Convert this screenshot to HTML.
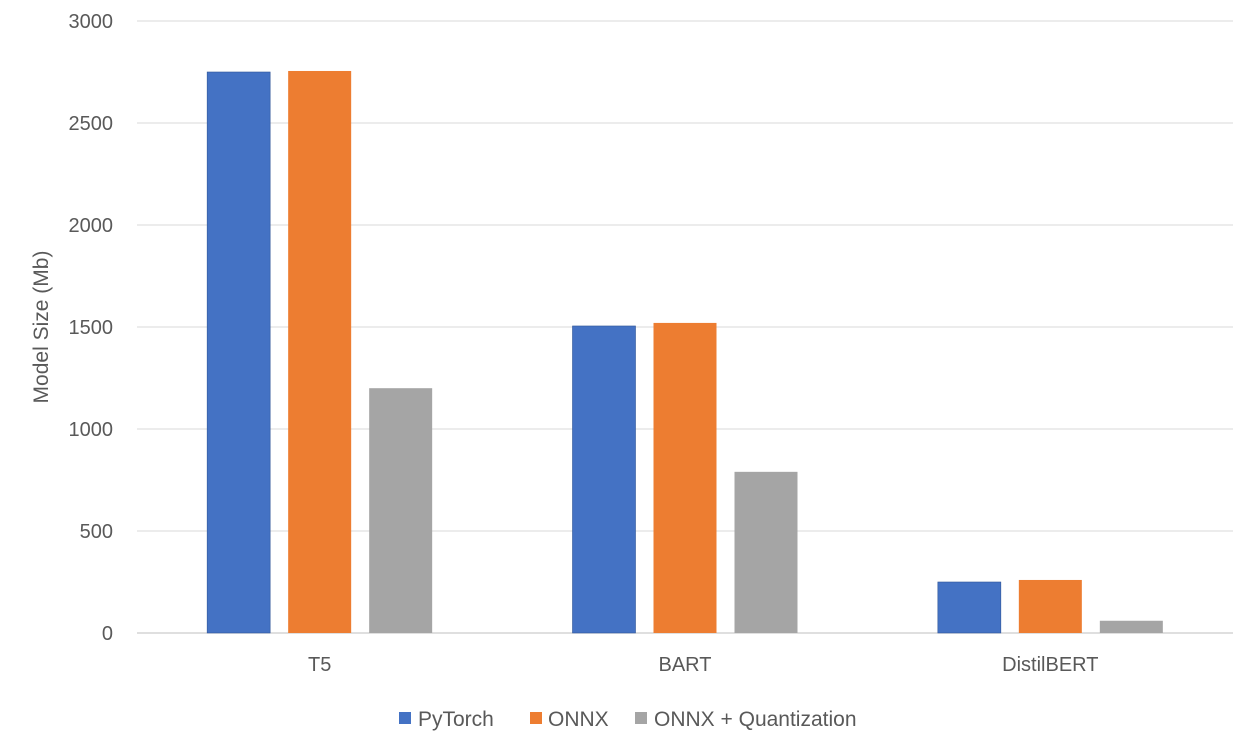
<!DOCTYPE html>
<html><head><meta charset="utf-8"><style>
html,body{margin:0;padding:0;background:#fff;}
svg{display:block;font-family:"Liberation Sans",sans-serif;}
</style></head><body>
<svg id="chart" width="1258" height="752"></svg>
<script>
const categories = ["T5","BART","DistilBERT"];
const seriesNames = ["PyTorch","ONNX","ONNX + Quantization"];
const pytorchValues = [2750, 1505, 250];
const onnxValues = [2755, 1520, 260];
const quantValues = [1200, 790, 60];
const yTicks = [0,500,1000,1500,2000,2500,3000];
const colors = ["#4472C4","#ED7D31","#A5A5A5"];
const seriesValues = [pytorchValues, onnxValues, quantValues];

const NS="http://www.w3.org/2000/svg";
const svg=document.getElementById('chart');
const plotL=137, plotR=1233, y0=633, yTop=21, yMax=3000;
function yScale(v){return y0-(v/yMax)*(y0-yTop);}
const groupW=(plotR-plotL)/categories.length;
function xGroup(i){return plotL+groupW*(i+0.5);}
const barW=63, gap=18;
function mk(tag,attrs){const e=document.createElementNS(NS,tag);for(const k in attrs)e.setAttribute(k,attrs[k]);svg.appendChild(e);return e;}

yTicks.forEach(t=>{
  const y=yScale(t);
  const l=mk('line',{x1:plotL,x2:plotR,y1:y,y2:y,stroke:t===0?'#BFBFBF':'#D9D9D9','stroke-width':1});
  
  
  const tx=mk('text',{x:113,y:y+7,'text-anchor':'end','font-size':20,fill:'#595959'});
  tx.textContent=t;
  
  
});

categories.forEach((c,i)=>{
  const cx=xGroup(i);
  seriesValues.forEach((vals,s)=>{
    const x=cx+(s-1)*(barW+gap)-barW/2;
    const y=yScale(vals[i]);
    const r=mk('rect',{x:x,y:y,width:barW,height:y0-y,fill:colors[s],stroke:s===0?'#2F5597':'none','stroke-width':0.6});
    
    
  });
  const t=mk('text',{x:cx,y:671,'text-anchor':'middle','font-size':20,fill:'#595959'});
  t.textContent=c;
  
  
});

const yl=mk('text',{x:0,y:0,transform:'translate(48,327) rotate(-90)','text-anchor':'middle','font-size':21,fill:'#595959'});
yl.textContent='Model Size (Mb)';



const legX=[399,530,635];
seriesNames.forEach((n,s)=>{
  const r=mk('rect',{x:legX[s],y:712,width:12,height:12,fill:colors[s]});
  
  
  const t=mk('text',{x:legX[s]+(s===1?18:19),y:726,'font-size':21,fill:'#595959'});
  t.textContent=n;
  
  
});
</script>
</body></html>
